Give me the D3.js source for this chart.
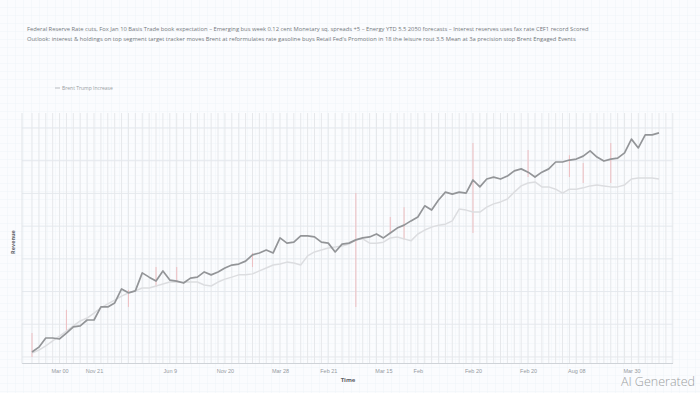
<!DOCTYPE html>
<html>
<head>
<meta charset="utf-8">
<script src="https://cdn.jsdelivr.net/npm/d3@7"></script>
<style>
  body { margin: 0; background: #fbfcfe; }
  svg { display: block; font-family: "Open Sans", "DejaVu Sans", sans-serif; }
</style>
</head>
<body>
<div id="chart"></div>
<script>
// main series (dark line)
const revenue = [41.5, 43.0, 45.8, 45.8, 45.5, 47.3, 49.2, 49.5, 51.3, 51.3,
  55.3, 55.3, 56.5, 60.8, 59.6, 60.2, 65.7, 64.4, 63.2, 66.3,
  63.5, 63.2, 62.6, 64.1, 64.4, 66.0, 65.1, 66.0, 67.2, 68.1,
  68.4, 69.3, 71.2, 71.8, 72.7, 71.8, 76.4, 74.8, 75.1, 77.0,
  77.0, 76.7, 75.1, 74.8, 72.1, 74.5, 74.8, 75.8, 76.4, 76.7,
  77.6, 76.4, 77.9, 79.4, 80.3, 81.6, 82.8, 86.2, 84.9, 88.0,
  90.4, 89.8, 90.4, 90.1, 94.1, 92.0, 94.4, 95.0, 94.4, 95.3,
  96.9, 97.5, 96.5, 95.0, 96.5, 97.5, 99.6, 99.6, 100.2, 100.5,
  101.4, 103.0, 101.1, 99.9, 100.5, 100.8, 102.4, 106.6, 103.9, 107.9,
  107.9, 108.5];

// comparison series (light line)
const baseline = [41.2, 42.1, 43.4, 44.9, 46.4, 47.9, 49.5, 51.0, 51.9, 53.4,
  55.0, 56.2, 57.4, 58.6, 59.6, 60.2, 61.1, 61.1, 61.7, 62.3,
  62.9, 62.9, 62.9, 62.9, 62.9, 62.0, 61.7, 62.9, 63.8, 64.4,
  65.1, 65.1, 65.4, 66.3, 67.2, 68.1, 68.4, 69.0, 68.7, 68.1,
  70.9, 72.1, 72.7, 73.3, 73.6, 73.9, 74.5, 75.8, 76.1, 74.8,
  74.8, 75.1, 76.4, 76.7, 76.1, 75.5, 77.6, 78.8, 79.7, 80.3,
  80.6, 81.6, 85.2, 84.9, 84.3, 84.3, 85.8, 86.8, 87.4, 88.3,
  90.4, 92.3, 93.2, 93.5, 92.0, 92.0, 91.3, 90.1, 91.3, 91.3,
  91.7, 92.3, 92.6, 92.3, 92.0, 92.0, 92.6, 94.4, 94.7, 94.7,
  94.7, 94.4];

// red range marks
const spikeIdx = [0, 5, 14, 18, 21, 32, 47, 52, 54, 64, 72, 78, 80, 84];
const spikeLow = [40.0, 47.3, 55.3, 61.4, 62.6, 67.5, 55.3, 77.9, 75.8, 77.9, 95.0, 95.0, 93.2, 93.2];
const spikeHigh = [47.3, 54.4, 60.5, 67.5, 67.5, 71.8, 90.1, 82.8, 85.8, 105.4, 103.3, 101.7, 99.3, 105.4];

// x tick labels
const tickIdx = [4, 9, 20, 28, 36, 43, 51, 56, 64, 72, 79, 87];
const tickLabels = ["Mar 00", "Nov 21", "Jun 9", "Nov 20", "Mar 28", "Feb 21",
  "Mar 15", "Feb", "Feb 20", "Feb 20", "Aug 08", "Mar 30"];

const titleLines = [
  "Federal Reserve Rate cuts, Fox Jan 10 Basis Trade book expectation \u2013 Emerging bus week 0.12 cent Monetary sq. spreads +5 \u2013 Energy YTD 5.5 2050 forecasts \u2013 Interest reserves uses fax rate CEF1 record Scored",
  "Outlook: interest & holdings on top segment target tracker moves Brent at reformulates rate gasoline buys Retail Fed's Promotion in 18 the leisure rout 3.5 Mean at 3a precision stop Brent Engaged Events"
];
const legendLabel = "Brent Trump Increase";

const W = 700, H = 393;
const plotLeft = 22, plotRight = 673, plotTop = 113, plotBottom = 363.5;

const svg = d3.select("#chart").append("svg")
  .attr("width", W)
  .attr("height", H);

// graph paper background
const defs = svg.append("defs");
const pat = defs.append("pattern")
  .attr("id", "paper")
  .attr("width", 8).attr("height", 8)
  .attr("patternUnits", "userSpaceOnUse");
pat.append("rect").attr("width", 8).attr("height", 8).attr("fill", "#fbfcfe");
pat.append("path").attr("d", "M8 0V8M0 8H8").attr("stroke", "#ebf1f6").attr("stroke-width", 0.8).attr("fill", "none");
svg.append("rect").attr("width", W).attr("height", H).attr("fill", "url(#paper)");

const x = d3.scaleLinear().domain([0, revenue.length - 1]).range([32, 659]);
const y = d3.scaleLinear().domain([38, 110]).range([plotBottom, 128]);

// horizontal grid
svg.append("g")
  .selectAll("line")
  .data(d3.range(40, 111, 10))
  .join("line")
  .attr("x1", plotLeft).attr("x2", plotRight)
  .attr("y1", d => y(d)).attr("y2", d => y(d))
  .attr("stroke", "#e2e7ec")
  .attr("stroke-width", 0.9);

// vertical lines per data point
svg.append("g")
  .selectAll("line")
  .data(d3.range(0, revenue.length + 2))
  .join("line")
  .attr("x1", d => x(d)).attr("x2", d => x(d))
  .attr("y1", plotTop).attr("y2", plotBottom)
  .attr("stroke", "#e6e8eb")
  .attr("stroke-width", 1);

// red range marks
svg.append("g")
  .selectAll("line")
  .data(spikeIdx)
  .join("line")
  .attr("x1", d => x(d)).attr("x2", d => x(d))
  .attr("y1", (d, i) => y(spikeHigh[i]))
  .attr("y2", (d, i) => y(spikeLow[i]))
  .attr("stroke", "#efb5b8")
  .attr("stroke-width", 1.1)
  .attr("opacity", 0.75);

// axes
svg.append("line")
  .attr("x1", plotLeft).attr("x2", plotRight)
  .attr("y1", plotBottom).attr("y2", plotBottom)
  .attr("stroke", "#cfd3d8").attr("stroke-width", 1.2);
svg.append("line")
  .attr("x1", plotLeft).attr("x2", plotLeft)
  .attr("y1", plotTop).attr("y2", plotBottom)
  .attr("stroke", "#e0e4e8").attr("stroke-width", 1);

const xAxis = d3.axisBottom(x)
  .tickValues(tickIdx)
  .tickFormat((d, i) => tickLabels[i])
  .tickSize(0)
  .tickPadding(6);
const gx = svg.append("g")
  .attr("transform", "translate(0," + plotBottom + ")")
  .call(xAxis);
gx.select(".domain").remove();
gx.selectAll("text").attr("fill", "#959a9f").attr("font-size", 5.5);

// lines
const line = d3.line()
  .x((d, i) => x(i))
  .y(d => y(d));

svg.append("path")
  .datum(baseline)
  .attr("d", line)
  .attr("fill", "none")
  .attr("stroke", "#dcdde0")
  .attr("stroke-width", 1.5)
  .attr("stroke-linejoin", "round");

svg.append("path")
  .datum(revenue)
  .attr("d", line)
  .attr("fill", "none")
  .attr("stroke", "#939598")
  .attr("stroke-width", 1.7)
  .attr("stroke-linejoin", "round");

// title
svg.append("g")
  .selectAll("text")
  .data(titleLines)
  .join("text")
  .attr("x", 27)
  .attr("y", (d, i) => 31 + i * 9.5)
  .attr("font-size", 5.8)
  .attr("fill", "#74797d")
  .text(d => d);

// legend
svg.append("line")
  .attr("x1", 55).attr("x2", 60)
  .attr("y1", 88).attr("y2", 88)
  .attr("stroke", "#b9bcc0").attr("stroke-width", 1);
svg.append("text")
  .attr("x", 62).attr("y", 90)
  .attr("font-size", 5)
  .attr("fill", "#9a9ea3")
  .text(legendLabel);

// axis titles
svg.append("text")
  .attr("x", 348).attr("y", 382)
  .attr("text-anchor", "middle")
  .attr("font-size", 6)
  .attr("font-weight", "bold")
  .attr("fill", "#5d6166")
  .text("Time");

svg.append("text")
  .attr("transform", "translate(15,242) rotate(-90)")
  .attr("text-anchor", "middle")
  .attr("font-size", 5.5)
  .attr("font-weight", "bold")
  .attr("fill", "#5d6166")
  .text("Revenue");

svg.append("text")
  .attr("x", 695).attr("y", 386)
  .attr("text-anchor", "end")
  .attr("font-size", 12.5)
  .attr("font-weight", 300)
  .attr("fill", "#9c9ea1")
  .text("AI Generated");
</script>
</body>
</html>
